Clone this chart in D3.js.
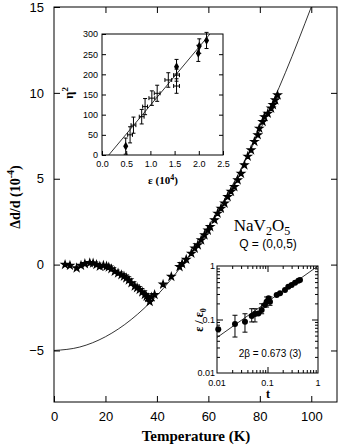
<!DOCTYPE html>
<html>
<head>
<meta charset="utf-8">
<script src="https://cdn.jsdelivr.net/npm/d3@7"></script>
<style>
  body { margin: 0; background: #fff; }
  svg { display: block; }
  .tick text { font-family: "Liberation Sans", Arial, sans-serif; }
</style>
</head>
<body>
<div id="chart"></div>
<script>
// main data: temperature (K) vs delta d/d (1e-4)
const mainT = [4.3, 6.2, 8.8, 10.5, 12, 13.9, 15.2, 16.5, 17.8, 19.2, 20.4, 21.3, 22.3, 23.6, 24.9, 26.2, 27.2, 28.1, 29.1, 30.1,
  31.4, 32.3, 33.3, 34.3, 35.3, 36.0, 36.6, 37.2, 37.9, 39.1, 42.4, 45.6, 48.8, 49.8, 51.4, 53.4, 54.7, 55.9, 57.2, 58.5,
  59.8, 60.7, 62.4, 63.6, 64.9, 66.3, 67.5, 68.8, 70.1, 71.4, 72.7, 74.0, 75.3, 76.6, 77.9, 79.2, 79.8, 81.1, 81.8, 83.1,
  84.4, 85.1, 86.0, 86.9];
const mainV = [0, -0.05, -0.2, -0.05, 0.05, 0.1, 0.08, 0, -0.1, -0.05, -0.1, -0.15, -0.25, -0.4, -0.5, -0.6, -0.68, -0.78, -0.9, -1.07,
  -1.26, -1.35, -1.46, -1.6, -1.75, -1.85, -1.94, -2.16, -1.9, -1.75, -1.15, -0.7, -0.13, 0.05, 0.3, 0.65, 0.95, 1.14, 1.43, 1.72,
  2.0, 2.2, 2.6, 2.98, 3.27, 3.57, 3.95, 4.25, 4.53, 4.92, 5.3, 5.8, 6.3, 6.67, 7.16, 7.55, 7.93, 8.32, 8.6, 8.8,
  9.1, 9.3, 9.58, 9.87];
// fitted curve
const fitT = [0, 10, 20, 30, 40, 50, 60, 70, 80, 90, 100];
const fitV = [-5, -4.8, -4.2, -3.2, -1.8, 0, 2.2, 4.8, 7.8, 11.2, 15];

// inset 1: eta^2 vs epsilon
const epsFilled = [0.49, 1.54, 1.99, 2.01, 2.16];
const etaFilled = [22, 219, 252, 270, 284];
const etaErrFilled = [20, 18, 20, 18, 20];
const epsOpen = [0.58, 0.65, 0.82, 0.89, 1.03, 1.14, 1.37, 1.54, 1.54];
const etaOpen = [50, 74, 95, 120, 141, 153, 186, 198, 171];
const etaErrOpen = [20, 20, 18, 20, 18, 20, 18, 15, 18];
const epsErrOpen = [0.05, 0.05, 0.05, 0.05, 0.06, 0.06, 0.07, 0.06, 0.06];
const inset1Fit = [[0.14, 0], [2.23, 300]];

// inset 2: eps/eps0 vs t (log-log)
const tVals = [0.0106, 0.0227, 0.0358, 0.0487, 0.0565, 0.0658, 0.0767, 0.089, 0.096, 0.112, 0.105, 0.152, 0.177, 0.222, 0.258, 0.30, 0.351, 0.408, 0.44];
const ratioVals = [0.066, 0.082, 0.091, 0.116, 0.127, 0.13, 0.151, 0.187, 0.215, 0.215, 0.249, 0.287, 0.31, 0.356, 0.41, 0.44, 0.488, 0.531, 0.547];
const errT = [0.0227, 0.0358, 0.0487, 0.0565, 0.0767, 0.096, 0.112];
const errLo = [0.047, 0.058, 0.090, 0.090, 0.128, 0.171, 0.184];
const errHi = [0.120, 0.128, 0.159, 0.159, 0.197, 0.264, 0.264];
const inset2Fit = [[0.01, 0.046], [1, 1.0]];

const W = 341, H = 447;
const svg = d3.select("#chart").append("svg").attr("width", W).attr("height", H);

const mL = 54, mR = 337, mT = 7, mB = 402;
const x = d3.scaleLinear().domain([0, 110]).range([mL, mR]);
const y = d3.scaleLinear().domain([-8, 15]).range([mB, mT]);

// frame
svg.append("rect").attr("x", mL).attr("y", mT).attr("width", mR - mL).attr("height", mB - mT)
  .attr("fill", "none").attr("stroke", "#000");

const xTicks = [0, 20, 40, 60, 80, 100];
const yTicks = [-5, 0, 5, 10, 15];

svg.append("g").attr("transform", `translate(0,${mB})`)
  .call(d3.axisBottom(x).tickValues(xTicks).tickSizeInner(-6).tickSizeOuter(0).tickPadding(10))
  .call(g => g.select(".domain").remove())
  .selectAll("text").attr("font-size", 13);
svg.append("g").attr("transform", `translate(0,${mT})`)
  .call(d3.axisTop(x).tickValues(xTicks.slice(1)).tickSizeInner(-6).tickSizeOuter(0).tickFormat(""))
  .call(g => g.select(".domain").remove());
svg.append("g").attr("transform", `translate(${mL},0)`)
  .call(d3.axisLeft(y).tickValues(yTicks).tickSizeInner(-6).tickSizeOuter(0).tickPadding(10))
  .call(g => g.select(".domain").remove())
  .selectAll("text").attr("font-size", 13);
svg.append("g").attr("transform", `translate(${mR},0)`)
  .call(d3.axisRight(y).tickValues(yTicks.slice(0, 4)).tickSizeInner(-6).tickSizeOuter(0).tickFormat(""))
  .call(g => g.select(".domain").remove());

// fit curve
const fitPts = fitT.map((t, i) => [t, fitV[i]]);
svg.append("path").datum(fitPts)
  .attr("fill", "none").attr("stroke", "#000").attr("stroke-width", 0.8)
  .attr("d", d3.line().x(d => x(d[0])).y(d => y(d[1])).curve(d3.curveMonotoneX));

// data markers
const star = d3.symbol().type(d3.symbolStar).size(16);
svg.selectAll(".mpt").data(mainT).enter().append("path")
  .attr("class", "mpt")
  .attr("transform", (d, i) => `translate(${x(d)},${y(mainV[i])})`)
  .attr("d", star).attr("fill", "#000").attr("stroke", "#000").attr("stroke-width", 1.2);

// axis titles
svg.append("text").attr("x", 196).attr("y", 441).attr("text-anchor", "middle")
  .attr("font-family", "Liberation Serif, serif").attr("font-weight", "bold").attr("font-size", 15)
  .text("Temperature (K)");
svg.append("text").attr("transform", "translate(20,197) rotate(-90)").attr("text-anchor", "middle")
  .attr("font-family", "Liberation Serif, serif").attr("font-weight", "bold").attr("font-size", 14)
  .html('Δd/d (10<tspan dy="-6" font-size="10">-4</tspan><tspan dy="6">)</tspan>');

// label
svg.append("text").attr("x", 262).attr("y", 231).attr("text-anchor", "middle")
  .attr("font-family", "Liberation Serif, serif").attr("font-size", 17)
  .html('NaV<tspan dy="4" font-size="12">2</tspan><tspan dy="-4">O</tspan><tspan dy="4" font-size="12">5</tspan>');
svg.append("text").attr("x", 268).attr("y", 248).attr("text-anchor", "middle")
  .attr("font-family", "Liberation Sans, Arial, sans-serif").attr("font-size", 12)
  .text("Q = (0,0,5)");

// ---------- inset 1 ----------
const i1 = {l: 102, r: 223, t: 34, b: 155};
const x1 = d3.scaleLinear().domain([0, 2.5]).range([i1.l, i1.r]);
const y1 = d3.scaleLinear().domain([0, 300]).range([i1.b, i1.t]);
const g1 = svg.append("g");
g1.append("rect").attr("x", i1.l).attr("y", i1.t).attr("width", i1.r - i1.l).attr("height", i1.b - i1.t)
  .attr("fill", "#fff").attr("stroke", "#000");
g1.append("g").attr("transform", `translate(0,${i1.b})`)
  .call(d3.axisBottom(x1).tickValues([0, 0.5, 1, 1.5, 2, 2.5]).tickFormat(d3.format(".1f")).tickSizeInner(-4).tickSizeOuter(0).tickPadding(6))
  .call(g => g.select(".domain").remove())
  .selectAll("text").attr("font-size", 9);
g1.append("g").attr("transform", `translate(${i1.l},0)`)
  .call(d3.axisLeft(y1).tickValues(d3.range(0, 301, 50)).tickSizeInner(-4).tickSizeOuter(0).tickPadding(4))
  .call(g => g.select(".domain").remove())
  .selectAll("text").attr("font-size", 9);
g1.append("g").attr("transform", `translate(${i1.r},0)`)
  .call(d3.axisRight(y1).tickValues(d3.range(50, 300, 50)).tickSizeInner(-4).tickSizeOuter(0).tickFormat(""))
  .call(g => g.select(".domain").remove());

g1.append("path").datum(inset1Fit).attr("fill", "none").attr("stroke", "#000").attr("stroke-width", 0.8)
  .attr("d", d3.line().x(d => x1(d[0])).y(d => y1(d[1])));

// open points with x and y error bars
epsOpen.forEach((e, i) => {
  const cx = x1(e), cy = y1(etaOpen[i]);
  const yt = y1(etaOpen[i] + etaErrOpen[i]), yb = y1(etaOpen[i] - etaErrOpen[i]);
  const xl = x1(e - epsErrOpen[i]), xr = x1(e + epsErrOpen[i]);
  g1.append("line").attr("x1", cx).attr("x2", cx).attr("y1", yt).attr("y2", yb).attr("stroke", "#000");
  g1.append("line").attr("x1", cx - 2).attr("x2", cx + 2).attr("y1", yt).attr("y2", yt).attr("stroke", "#000");
  g1.append("line").attr("x1", cx - 2).attr("x2", cx + 2).attr("y1", yb).attr("y2", yb).attr("stroke", "#000");
  g1.append("line").attr("x1", xl).attr("x2", xr).attr("y1", cy).attr("y2", cy).attr("stroke", "#000");
  g1.append("line").attr("x1", xl).attr("x2", xl).attr("y1", cy - 2).attr("y2", cy + 2).attr("stroke", "#000");
  g1.append("line").attr("x1", xr).attr("x2", xr).attr("y1", cy - 2).attr("y2", cy + 2).attr("stroke", "#000");
});
// filled points with y error bars
epsFilled.forEach((e, i) => {
  const cx = x1(e), cy = y1(etaFilled[i]);
  const yt = y1(etaFilled[i] + etaErrFilled[i]), yb = y1(etaFilled[i] - etaErrFilled[i]);
  g1.append("line").attr("x1", cx).attr("x2", cx).attr("y1", yt).attr("y2", yb).attr("stroke", "#000");
  g1.append("line").attr("x1", cx - 2).attr("x2", cx + 2).attr("y1", yt).attr("y2", yt).attr("stroke", "#000");
  g1.append("line").attr("x1", cx - 2).attr("x2", cx + 2).attr("y1", yb).attr("y2", yb).attr("stroke", "#000");
  g1.append("path").attr("transform", `translate(${cx},${cy})`)
    .attr("d", d3.symbol().type(d3.symbolDiamond).size(22)).attr("fill", "#000");
});

g1.append("text").attr("transform", "translate(73,93) rotate(-90)").attr("text-anchor", "middle")
  .attr("font-family", "Liberation Serif, serif").attr("font-weight", "bold").attr("font-size", 13)
  .html('η<tspan dy="-5" font-size="9">2</tspan>');
g1.append("text").attr("x", 163).attr("y", 184).attr("text-anchor", "middle")
  .attr("font-family", "Liberation Serif, serif").attr("font-weight", "bold").attr("font-size", 11)
  .html('ε (10<tspan dy="-4" font-size="8">4</tspan><tspan dy="4">)</tspan>');

// ---------- inset 2 ----------
const i2 = {l: 217, r: 318, t: 266, b: 373};
const x2 = d3.scaleLog().domain([0.01, 1]).range([i2.l, i2.r]);
const y2 = d3.scaleLog().domain([0.01, 1]).range([i2.b, i2.t]);
const g2 = svg.append("g");
g2.append("rect").attr("x", i2.l).attr("y", i2.t).attr("width", i2.r - i2.l).attr("height", i2.b - i2.t)
  .attr("fill", "#fff").attr("stroke", "#000");

const logTicks = d3.range(2, 10).map(k => k * 0.01).concat(d3.range(2, 10).map(k => k * 0.1));
const majors = [0.01, 0.1, 1];
// minor + major ticks on all four sides
[["b", i2.b], ["t", i2.t]].forEach(([s, p]) => {
  const g = g2.append("g").attr("transform", `translate(0,${p})`)
    .call((s === "b" ? d3.axisBottom(x2) : d3.axisTop(x2)).tickValues(logTicks).tickSizeInner(-3).tickSizeOuter(0).tickFormat(""));
  g.select(".domain").remove();
  g2.append("g").attr("transform", `translate(0,${p})`)
    .call((s === "b" ? d3.axisBottom(x2) : d3.axisTop(x2)).tickValues([0.1]).tickSizeInner(-6).tickSizeOuter(0).tickFormat(""))
    .select(".domain").remove();
});
[["l", i2.l], ["r", i2.r]].forEach(([s, p]) => {
  const g = g2.append("g").attr("transform", `translate(${p},0)`)
    .call((s === "l" ? d3.axisLeft(y2) : d3.axisRight(y2)).tickValues(logTicks).tickSizeInner(-3).tickSizeOuter(0).tickFormat(""));
  g.select(".domain").remove();
  g2.append("g").attr("transform", `translate(${p},0)`)
    .call((s === "l" ? d3.axisLeft(y2) : d3.axisRight(y2)).tickValues([0.1]).tickSizeInner(-6).tickSizeOuter(0).tickFormat(""))
    .select(".domain").remove();
});
// tick labels
g2.selectAll(".xl").data(majors).enter().append("text")
  .attr("x", d => x2(d)).attr("y", i2.b + 13).attr("text-anchor", "middle")
  .attr("font-family", "Liberation Sans, Arial, sans-serif").attr("font-size", 9).text(d => d);
g2.selectAll(".yl").data(majors).enter().append("text")
  .attr("x", i2.l - 2).attr("y", d => y2(d) + 3).attr("text-anchor", "end")
  .attr("font-family", "Liberation Sans, Arial, sans-serif").attr("font-size", 9).text(d => d);

g2.append("path").datum(inset2Fit).attr("fill", "none").attr("stroke", "#000").attr("stroke-width", 0.8)
  .attr("d", d3.line().x(d => x2(d[0])).y(d => y2(d[1])));

errT.forEach((t, i) => {
  const cx = x2(t), yt = y2(errHi[i]), yb = y2(errLo[i]);
  g2.append("line").attr("x1", cx).attr("x2", cx).attr("y1", yt).attr("y2", yb).attr("stroke", "#000");
  g2.append("line").attr("x1", cx - 2.5).attr("x2", cx + 2.5).attr("y1", yt).attr("y2", yt).attr("stroke", "#000");
  g2.append("line").attr("x1", cx - 2.5).attr("x2", cx + 2.5).attr("y1", yb).attr("y2", yb).attr("stroke", "#000");
});
g2.selectAll(".p2").data(tVals).enter().append("circle")
  .attr("cx", d => x2(d)).attr("cy", (d, i) => y2(ratioVals[i])).attr("r", 3).attr("fill", "#000");

g2.append("text").attr("x", 270).attr("y", 357).attr("text-anchor", "middle")
  .attr("font-family", "Liberation Sans, Arial, sans-serif").attr("font-size", 10)
  .text("2β = 0.673 (3)");
g2.append("text").attr("x", 268).attr("y", 398).attr("text-anchor", "middle")
  .attr("font-family", "Liberation Serif, serif").attr("font-weight", "bold").attr("font-size", 12)
  .text("t");
g2.append("text").attr("transform", "translate(203,320) rotate(-90)").attr("text-anchor", "middle")
  .attr("font-family", "Liberation Serif, serif").attr("font-weight", "bold").attr("font-size", 12)
  .html('ε / ε<tspan dy="3" font-size="8">0</tspan>');
</script>
</body>
</html>
